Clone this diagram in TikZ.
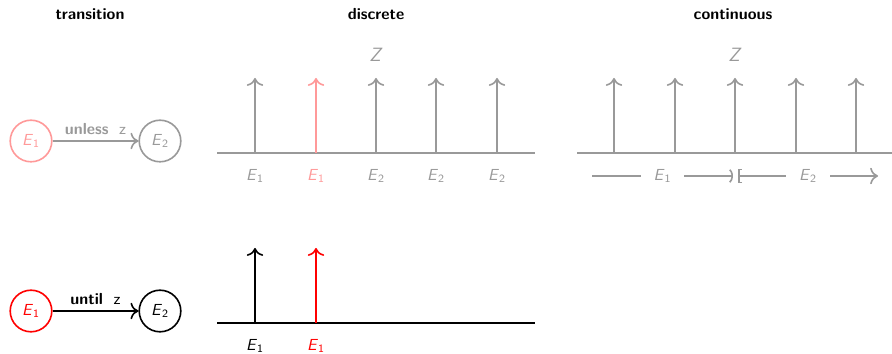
\documentclass[tikz,border=0pt]{standalone}
\usepackage{tikz}
\usetikzlibrary{arrows.meta}
\renewcommand{\familydefault}{\sfdefault}
\definecolor{grisZ}{gray}{0.6}
\definecolor{rojoC}{HTML}{FF9999}
\newcommand{\evt}[1]{\textit{E}\textsubscript{#1}}

\begin{document}
\begin{tikzpicture}[x=0.625pt,y=-0.625pt,>={To[scale=1.3]},
    titulo/.style={font=\bfseries},
    estado/.style={circle,draw,line width=1pt,minimum size=26pt,inner sep=0pt},
    flecha/.style={->,line width=1pt},
    eje/.style={line width=1.5pt},
    pico/.style={->,line width=1pt}]
  \useasboundingbox (0,0) rectangle (892,354);
  % titulos
  \node[titulo] (tt) at (90,14) {transition};
  \node[titulo] (td) at (376,14) {discrete};
  \node[titulo] (tc) at (733,14) {continuous};
  % transicion: unless
  \node[estado,rojoC,text=rojoC] (a1) at (31,141) {\evt{1}};
  \node[estado,grisZ,text=grisZ] (a2) at (160,141) {\evt{2}};
  \draw[flecha,grisZ] (a1) -- node[above,text=grisZ] (la) {\textbf{unless}\ \ z} (a2);
  % transicion: until
  \node[estado,red,text=red] (b1) at (31,311) {\evt{1}};
  \node[estado,black] (b2) at (160,311) {\evt{2}};
  \draw[flecha] (b1) -- node[above] (lb) {\textbf{until}\ \ z} (b2);
  % discreto arriba
  \coordinate (d0) at (217,153);
  \coordinate (d9) at (535,153);
  \draw[eje,grisZ] (d0) -- (d9);
  \node[grisZ,font=\large] (zd) at (376,55) {\textit{Z}};
  \foreach \x/\c/\s [count=\i] in {255/grisZ/1,316/rojoC/1,376/grisZ/2,436/grisZ/2,497/grisZ/2} {
    \coordinate (d\i) at (\x,153);
    \coordinate (dp\i) at (\x,78);
    \draw[pico,\c] (d\i) -- (dp\i);
    \node[text=\c] (dl\i) at (\x,176) {\evt{\s}};
  }
  % discreto abajo
  \coordinate (e0) at (217,323);
  \coordinate (e9) at (535,323);
  \draw[eje] (e0) -- (e9);
  \foreach \x/\c [count=\i] in {255/black,316/red} {
    \coordinate (e\i) at (\x,323);
    \coordinate (ep\i) at (\x,248);
    \draw[pico,\c] (e\i) -- (ep\i);
    \node[text=\c] (el\i) at (\x,346) {\evt{1}};
  }
  % continuo
  \coordinate (c0) at (577,153);
  \coordinate (c9) at (892,153);
  \draw[eje,grisZ] (c0) -- (c9);
  \node[grisZ,font=\large] (zc) at (735,55) {\textit{Z}};
  \foreach \x [count=\i] in {614,675,735,796,856} {
    \coordinate (c\i) at (\x,153);
    \coordinate (cp\i) at (\x,78);
    \draw[pico,grisZ] (c\i) -- (cp\i);
  }
  \coordinate (r1) at (592,176);
  \coordinate (r2) at (733,176);
  \coordinate (r3) at (738,176);
  \coordinate (r4) at (878,176);
  \draw[-{Parenthesis[width=10pt,length=3.5pt]},line width=1pt,grisZ] (r1) -- node[fill=white,inner xsep=8pt,text=grisZ] (cl1) {\evt{1}} (r2);
  \draw[{Bracket[width=9pt,length=2pt]}->,line width=1pt,grisZ] (r3) -- node[fill=white,inner xsep=8pt,text=grisZ] (cl2) {\evt{2}} (r4);
\end{tikzpicture}
\end{document}
